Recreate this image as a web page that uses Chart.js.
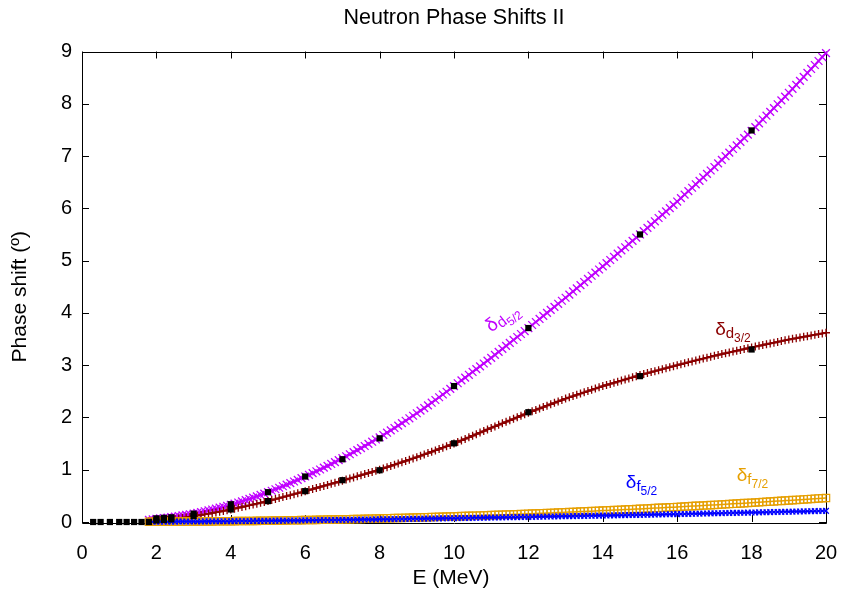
<!DOCTYPE html>
<html>
<head>
<meta charset="utf-8">
<script src="https://cdn.jsdelivr.net/npm/chart.js@4/dist/chart.umd.min.js"></script>
<style>
  html, body { margin: 0; padding: 0; background: #fff; }
  #wrap { width: 843px; height: 589px; }
</style>
</head>
<body>
<div id="wrap"><canvas id="c" width="843" height="589"></canvas></div>
<script>
// Energy grid of the calculated phase shifts (MeV)
const energy = [
  1.8, 1.9, 2.0,
  2.1, 2.2, 2.3, 2.4, 2.5, 2.6, 2.7, 2.8, 2.9, 3.0,
  3.1, 3.2, 3.3, 3.4, 3.5, 3.6, 3.7, 3.8, 3.9, 4.0,
  4.1, 4.2, 4.3, 4.4, 4.5, 4.6, 4.7, 4.8, 4.9, 5.0,
  5.1, 5.2, 5.3, 5.4, 5.5, 5.6, 5.7, 5.8, 5.9, 6.0,
  6.1, 6.2, 6.3, 6.4, 6.5, 6.6, 6.7, 6.8, 6.9, 7.0,
  7.1, 7.2, 7.3, 7.4, 7.5, 7.6, 7.7, 7.8, 7.9, 8.0,
  8.1, 8.2, 8.3, 8.4, 8.5, 8.6, 8.7, 8.8, 8.9, 9.0,
  9.1, 9.2, 9.3, 9.4, 9.5, 9.6, 9.7, 9.8, 9.9, 10.0,
  10.1, 10.2, 10.3, 10.4, 10.5, 10.6, 10.7, 10.8, 10.9, 11.0,
  11.1, 11.2, 11.3, 11.4, 11.5, 11.6, 11.7, 11.8, 11.9, 12.0,
  12.1, 12.2, 12.3, 12.4, 12.5, 12.6, 12.7, 12.8, 12.9, 13.0,
  13.1, 13.2, 13.3, 13.4, 13.5, 13.6, 13.7, 13.8, 13.9, 14.0,
  14.1, 14.2, 14.3, 14.4, 14.5, 14.6, 14.7, 14.8, 14.9, 15.0,
  15.1, 15.2, 15.3, 15.4, 15.5, 15.6, 15.7, 15.8, 15.9, 16.0,
  16.1, 16.2, 16.3, 16.4, 16.5, 16.6, 16.7, 16.8, 16.9, 17.0,
  17.1, 17.2, 17.3, 17.4, 17.5, 17.6, 17.7, 17.8, 17.9, 18.0,
  18.1, 18.2, 18.3, 18.4, 18.5, 18.6, 18.7, 18.8, 18.9, 19.0,
  19.1, 19.2, 19.3, 19.4, 19.5, 19.6, 19.7, 19.8, 19.9, 20.0
];

// d5/2 phase shift (degrees)
const deltaD52 = [
  0.040, 0.050, 0.060,
  0.068, 0.076, 0.085, 0.094, 0.104, 0.115, 0.126, 0.137, 0.148, 0.160,
  0.175, 0.190, 0.206, 0.222, 0.239, 0.256, 0.274, 0.292, 0.311, 0.330,
  0.351, 0.373, 0.395, 0.418, 0.442, 0.466, 0.491, 0.517, 0.543, 0.570,
  0.598, 0.626, 0.655, 0.684, 0.714, 0.744, 0.775, 0.806, 0.838, 0.870,
  0.903, 0.936, 0.970, 1.004, 1.039, 1.074, 1.110, 1.146, 1.183, 1.220,
  1.258, 1.296, 1.335, 1.374, 1.414, 1.454, 1.495, 1.536, 1.578, 1.620,
  1.664, 1.708, 1.753, 1.798, 1.844, 1.890, 1.937, 1.984, 2.032, 2.080,
  2.130, 2.180, 2.231, 2.282, 2.334, 2.386, 2.439, 2.492, 2.546, 2.600,
  2.654, 2.708, 2.762, 2.816, 2.870, 2.924, 2.978, 3.032, 3.086, 3.140,
  3.197, 3.254, 3.311, 3.368, 3.425, 3.482, 3.539, 3.596, 3.653, 3.710,
  3.768, 3.826, 3.884, 3.942, 4.000, 4.058, 4.116, 4.174, 4.232, 4.290,
  4.350, 4.410, 4.470, 4.530, 4.590, 4.650, 4.710, 4.770, 4.830, 4.890,
  4.951, 5.012, 5.073, 5.134, 5.195, 5.256, 5.317, 5.378, 5.439, 5.500,
  5.563, 5.626, 5.689, 5.752, 5.815, 5.878, 5.941, 6.004, 6.067, 6.130,
  6.196, 6.262, 6.328, 6.394, 6.460, 6.526, 6.592, 6.658, 6.724, 6.790,
  6.859, 6.928, 6.997, 7.066, 7.135, 7.204, 7.273, 7.342, 7.411, 7.480,
  7.553, 7.626, 7.699, 7.772, 7.845, 7.918, 7.991, 8.064, 8.137, 8.210,
  8.286, 8.362, 8.438, 8.514, 8.590, 8.666, 8.742, 8.818, 8.894, 8.970
];

// d3/2 phase shift (degrees)
const deltaD32 = [
  0.020, 0.025, 0.030,
  0.036, 0.042, 0.049, 0.056, 0.064, 0.072, 0.080, 0.090, 0.100, 0.110,
  0.122, 0.134, 0.146, 0.158, 0.171, 0.184, 0.197, 0.211, 0.225, 0.240,
  0.255, 0.271, 0.287, 0.303, 0.319, 0.335, 0.351, 0.367, 0.383, 0.400,
  0.419, 0.438, 0.457, 0.476, 0.495, 0.514, 0.533, 0.552, 0.571, 0.590,
  0.610, 0.630, 0.650, 0.670, 0.690, 0.710, 0.730, 0.750, 0.770, 0.790,
  0.811, 0.832, 0.853, 0.874, 0.895, 0.916, 0.937, 0.958, 0.979, 1.000,
  1.024, 1.048, 1.072, 1.096, 1.120, 1.144, 1.168, 1.192, 1.216, 1.240,
  1.266, 1.292, 1.318, 1.344, 1.370, 1.396, 1.422, 1.448, 1.474, 1.500,
  1.530, 1.560, 1.590, 1.620, 1.650, 1.680, 1.710, 1.740, 1.770, 1.800,
  1.829, 1.858, 1.887, 1.916, 1.945, 1.974, 2.003, 2.032, 2.061, 2.090,
  2.117, 2.144, 2.171, 2.198, 2.225, 2.252, 2.279, 2.306, 2.333, 2.360,
  2.384, 2.408, 2.432, 2.456, 2.480, 2.504, 2.528, 2.552, 2.576, 2.600,
  2.621, 2.642, 2.663, 2.684, 2.705, 2.726, 2.747, 2.768, 2.789, 2.810,
  2.829, 2.848, 2.867, 2.886, 2.905, 2.924, 2.943, 2.962, 2.981, 3.000,
  3.018, 3.036, 3.054, 3.072, 3.090, 3.108, 3.126, 3.144, 3.162, 3.180,
  3.196, 3.212, 3.228, 3.244, 3.260, 3.276, 3.292, 3.308, 3.324, 3.340,
  3.355, 3.370, 3.385, 3.400, 3.415, 3.430, 3.445, 3.460, 3.475, 3.490,
  3.503, 3.516, 3.529, 3.542, 3.555, 3.568, 3.581, 3.594, 3.607, 3.620
];

// f7/2 phase shift (degrees)
const deltaF72 = [
  0.003, 0.003, 0.004,
  0.004, 0.005, 0.005, 0.006, 0.006, 0.007, 0.007, 0.008, 0.008, 0.009,
  0.010, 0.010, 0.011, 0.012, 0.012, 0.013, 0.014, 0.014, 0.015, 0.016,
  0.017, 0.018, 0.019, 0.019, 0.020, 0.021, 0.022, 0.023, 0.024, 0.025,
  0.026, 0.027, 0.029, 0.030, 0.031, 0.032, 0.033, 0.035, 0.036, 0.037,
  0.038, 0.040, 0.041, 0.043, 0.044, 0.045, 0.047, 0.048, 0.050, 0.051,
  0.053, 0.054, 0.056, 0.057, 0.059, 0.061, 0.062, 0.064, 0.065, 0.067,
  0.069, 0.071, 0.073, 0.075, 0.077, 0.078, 0.080, 0.082, 0.084, 0.086,
  0.088, 0.090, 0.092, 0.094, 0.097, 0.099, 0.101, 0.103, 0.105, 0.107,
  0.109, 0.112, 0.114, 0.117, 0.119, 0.121, 0.124, 0.126, 0.129, 0.131,
  0.134, 0.136, 0.139, 0.141, 0.144, 0.147, 0.149, 0.152, 0.154, 0.157,
  0.160, 0.163, 0.166, 0.169, 0.172, 0.174, 0.177, 0.180, 0.183, 0.186,
  0.189, 0.192, 0.196, 0.199, 0.202, 0.205, 0.208, 0.212, 0.215, 0.218,
  0.221, 0.225, 0.228, 0.231, 0.235, 0.238, 0.241, 0.244, 0.248, 0.251,
  0.255, 0.258, 0.262, 0.266, 0.270, 0.273, 0.277, 0.281, 0.284, 0.288,
  0.292, 0.296, 0.300, 0.304, 0.308, 0.311, 0.315, 0.319, 0.323, 0.327,
  0.331, 0.335, 0.340, 0.344, 0.348, 0.352, 0.356, 0.361, 0.365, 0.369,
  0.373, 0.378, 0.382, 0.387, 0.391, 0.395, 0.400, 0.404, 0.409, 0.413,
  0.418, 0.422, 0.427, 0.432, 0.437, 0.441, 0.446, 0.451, 0.455, 0.460
];

// f5/2 phase shift (degrees)
const deltaF52 = [
  0.004, 0.004, 0.005,
  0.005, 0.006, 0.006, 0.007, 0.007, 0.008, 0.008, 0.009, 0.009, 0.010,
  0.011, 0.011, 0.012, 0.012, 0.013, 0.014, 0.014, 0.015, 0.015, 0.016,
  0.017, 0.018, 0.018, 0.019, 0.020, 0.021, 0.022, 0.022, 0.023, 0.024,
  0.025, 0.026, 0.026, 0.027, 0.028, 0.029, 0.030, 0.030, 0.031, 0.032,
  0.033, 0.034, 0.035, 0.036, 0.037, 0.037, 0.038, 0.039, 0.040, 0.041,
  0.042, 0.043, 0.044, 0.045, 0.046, 0.047, 0.048, 0.049, 0.050, 0.051,
  0.052, 0.053, 0.054, 0.055, 0.057, 0.058, 0.059, 0.060, 0.061, 0.062,
  0.063, 0.064, 0.065, 0.066, 0.068, 0.069, 0.070, 0.071, 0.072, 0.073,
  0.074, 0.075, 0.077, 0.078, 0.079, 0.080, 0.081, 0.083, 0.084, 0.085,
  0.086, 0.087, 0.089, 0.090, 0.091, 0.092, 0.093, 0.095, 0.096, 0.097,
  0.098, 0.100, 0.101, 0.102, 0.104, 0.105, 0.106, 0.108, 0.109, 0.110,
  0.111, 0.113, 0.114, 0.115, 0.117, 0.118, 0.119, 0.121, 0.122, 0.123,
  0.124, 0.126, 0.127, 0.129, 0.130, 0.131, 0.133, 0.134, 0.136, 0.137,
  0.138, 0.140, 0.141, 0.143, 0.144, 0.145, 0.147, 0.148, 0.150, 0.151,
  0.153, 0.154, 0.156, 0.157, 0.159, 0.160, 0.162, 0.163, 0.165, 0.166,
  0.168, 0.169, 0.171, 0.172, 0.174, 0.175, 0.177, 0.178, 0.180, 0.181,
  0.183, 0.184, 0.186, 0.187, 0.189, 0.191, 0.192, 0.194, 0.195, 0.197,
  0.199, 0.200, 0.202, 0.203, 0.205, 0.207, 0.208, 0.210, 0.211, 0.213
];

// Measured phase shifts (filled squares)
const expEnergyD52 = [0.3, 0.5, 0.75, 1.0, 1.2, 1.4, 1.6, 1.8, 2.0, 2.2, 2.4, 3, 4, 5, 6, 7, 8, 10, 12, 15, 18];
const expDeltaD52  = [0, 0, 0, 0, 0, 0, 0, 0, 0.07, 0.08, 0.09, 0.16, 0.34, 0.57, 0.87, 1.20, 1.60, 2.60, 3.71, 5.50, 7.49];
const expEnergyD32 = [2.0, 2.2, 2.4, 3, 4, 5, 6, 7, 8, 10, 12, 15, 18];
const expDeltaD32  = [0.03, 0.04, 0.05, 0.115, 0.24, 0.40, 0.59, 0.80, 0.99, 1.505, 2.10, 2.79, 3.30];

// Axis ticks
const xTicks = [0, 2, 4, 6, 8, 10, 12, 14, 16, 18, 20];
const yTicks = [0, 1, 2, 3, 4, 5, 6, 7, 8, 9];

const TITLE = 'Neutron Phase Shifts II';
const X_TITLE = 'E (MeV)';
const Y_TITLE = 'Phase shift (º)';

const FONT = '"Liberation Sans", Arial, sans-serif';

const pairs = (xs, ys) => xs.map((x, i) => ({ x, y: ys[i] }));

// Curve labels: delta with nested subscripts
const curveLabels = [
  { parts: ['δ', 'd', '5/2'], color: '#c000ff', at: { x: 11.0, y: 3.62 }, angle: -38 },
  { parts: ['δ', 'd', '3/2'], color: '#8b0000', at: { x: 17.02, y: 3.58 }, angle: 0 },
  { parts: ['δ', 'f', '5/2'], color: '#0000ff', at: { x: 14.62, y: 0.65 }, angle: 0 },
  { parts: ['δ', 'f', '7/2'], color: '#e69f00', at: { x: 17.60, y: 0.79 }, angle: 0 }
];

// Frame with inward tick marks on all four sides, titles and curve labels
const framePlugin = {
  id: 'frame',
  beforeDatasetsDraw(chart) {
    const { ctx, chartArea: a, scales: { x, y } } = chart;
    const len = 7;
    ctx.save();
    ctx.strokeStyle = '#000';
    ctx.lineWidth = 1;
    ctx.beginPath();
    xTicks.forEach(v => {
      const px = Math.round(x.getPixelForValue(v)) + 0.5;
      ctx.moveTo(px, a.bottom); ctx.lineTo(px, a.bottom - len);
      ctx.moveTo(px, a.top); ctx.lineTo(px, a.top + len);
    });
    yTicks.forEach(v => {
      const py = Math.round(y.getPixelForValue(v)) + 0.5;
      ctx.moveTo(a.left, py); ctx.lineTo(a.left + len, py);
      ctx.moveTo(a.right, py); ctx.lineTo(a.right - len, py);
    });
    ctx.stroke();
    ctx.beginPath();
    ctx.rect(Math.round(a.left) + 0.5, Math.round(a.top) + 0.5,
             Math.round(a.right - a.left), Math.round(a.bottom - a.top));
    ctx.stroke();

    // titles
    ctx.fillStyle = '#000';
    ctx.textAlign = 'center';
    ctx.textBaseline = 'middle';
    const cx = (a.left + a.right) / 2;
    ctx.font = '21.5px ' + FONT;
    ctx.fillText(TITLE, cx, 18);
    ctx.font = '21px ' + FONT;
    ctx.fillText(X_TITLE, cx - 3, 578);
    ctx.save();
    ctx.translate(20, (a.top + a.bottom) / 2 + 10);
    ctx.rotate(-Math.PI / 2);
    ctx.fillText(Y_TITLE, 0, 0);
    ctx.restore();
    ctx.restore();
  },
  afterDatasetsDraw(chart) {
    const { ctx, scales: { x, y } } = chart;
    const sizes = [19, 15, 12];
    const drops = [0, 3, 7];
    curveLabels.forEach(l => {
      ctx.save();
      ctx.translate(x.getPixelForValue(l.at.x), y.getPixelForValue(l.at.y));
      ctx.rotate(l.angle * Math.PI / 180);
      ctx.fillStyle = l.color;
      ctx.textBaseline = 'alphabetic';
      ctx.textAlign = 'left';
      let cx = 0;
      l.parts.forEach((t, i) => {
        ctx.font = sizes[i] + 'px ' + FONT;
        ctx.fillText(t, cx, drops[i]);
        cx += ctx.measureText(t).width;
      });
      ctx.restore();
    });
  }
};

new Chart(document.getElementById('c'), {
  type: 'line',
  data: {
    datasets: [
      {
        label: 'data d5/2',
        data: pairs(expEnergyD52, expDeltaD52),
        showLine: false,
        pointStyle: 'rect',
        pointRadius: 4.4,
        pointBorderWidth: 0,
        backgroundColor: '#000',
        borderColor: '#000',
        clip: false
      },
      {
        label: 'data d3/2',
        data: pairs(expEnergyD32, expDeltaD32),
        showLine: false,
        pointStyle: 'rect',
        pointRadius: 4.4,
        pointBorderWidth: 0,
        backgroundColor: '#000',
        borderColor: '#000',
        clip: false
      },
      {
        label: 'f5/2',
        data: pairs(energy, deltaF52),
        borderColor: '#0000ff',
        backgroundColor: '#0000ff',
        borderWidth: 1.5,
        pointStyle: 'crossRot',
        pointRadius: 4,
        pointBorderWidth: 1.3,
        clip: false
      },
      {
        label: 'f7/2',
        data: pairs(energy, deltaF72),
        borderColor: '#e69f00',
        backgroundColor: 'rgba(0,0,0,0)',
        borderWidth: 1.5,
        pointStyle: 'rect',
        pointRadius: 5.2,
        pointBorderWidth: 1.2,
        clip: false
      },
      {
        label: 'd3/2',
        data: pairs(energy, deltaD32),
        borderColor: '#8b0000',
        backgroundColor: '#8b0000',
        borderWidth: 2,
        pointStyle: 'cross',
        pointRadius: 4,
        pointBorderWidth: 1.3,
        clip: false
      },
      {
        label: 'd5/2',
        data: pairs(energy, deltaD52),
        borderColor: '#c000ff',
        backgroundColor: '#c000ff',
        borderWidth: 2,
        pointStyle: 'crossRot',
        pointRadius: 5.5,
        pointBorderWidth: 1.3,
        clip: false
      }
    ]
  },
  options: {
    responsive: false,
    animation: false,
    devicePixelRatio: 1,
    layout: { padding: { left: 0, right: 17, top: 51.5, bottom: 0 } },
    elements: { line: { tension: 0 } },
    plugins: {
      legend: { display: false },
      tooltip: { enabled: false },
      title: { display: false }
    },
    scales: {
      x: {
        type: 'linear',
        min: 0, max: 20,
        afterFit: s => { s.height = 67; s.paddingLeft = 0; s.paddingRight = 0; },
        afterBuildTicks: s => { s.ticks = xTicks.map(v => ({ value: v })); },
        grid: { display: false, drawTicks: false },
        border: { display: false },
        ticks: { color: '#000', font: { family: FONT, size: 20 }, padding: 19, maxRotation: 0 }
      },
      y: {
        type: 'linear',
        min: 0, max: 9,
        afterFit: s => { s.width = 82; s.paddingTop = 0; s.paddingBottom = 0; },
        afterBuildTicks: s => { s.ticks = yTicks.map(v => ({ value: v })); },
        grid: { display: false, drawTicks: false },
        border: { display: false },
        ticks: { color: '#000', font: { family: FONT, size: 20 }, padding: 10 }
      }
    }
  },
  plugins: [framePlugin]
});
</script>
</body>
</html>
